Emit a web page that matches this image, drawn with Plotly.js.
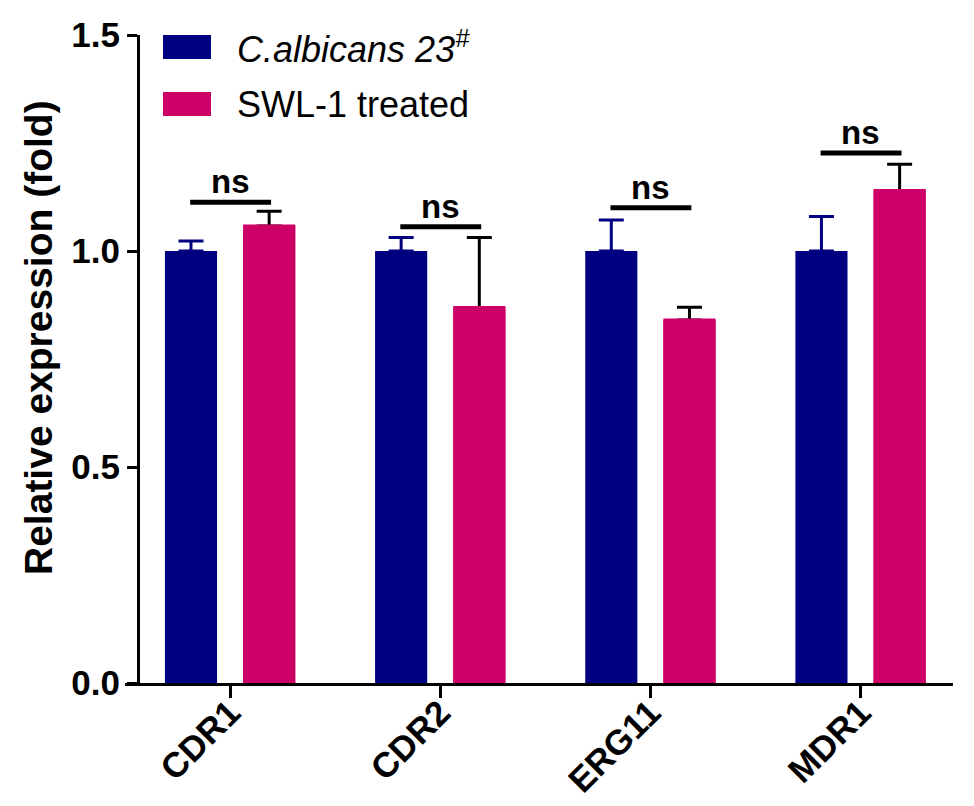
<!DOCTYPE html>
<html>
<head>
<meta charset="utf-8">
<script src="https://cdn.plot.ly/plotly-3.0.1.min.js"></script>
<style>html,body{margin:0;padding:0;background:#fff;}#chart{width:974px;height:806px;}</style>
</head>
<body>
<div id="chart"></div>
<script>
// ---- data ----
const genes = ["CDR1", "CDR2", "ERG11", "MDR1"];
const seriesNames = ["<i>C.albicans 23</i><sup><i>#</i></sup>", "SWL-1 treated"];
const controlVals = [1.00, 1.00, 1.00, 1.00];
const controlErr  = [0.023, 0.031, 0.072, 0.080];
const treatedVals = [1.058, 0.869, 0.840, 1.140];
const treatedErr  = [0.034, 0.162, 0.030, 0.061];
const nsLabels = ["ns", "ns", "ns", "ns"];
const nsY = [1.113, 1.056, 1.100, 1.227];
const yTickVals = [0, 0.5, 1.0, 1.5];
const yTickText = ["0.0", "0.5", "1.0", "1.5"];
const yTitle = "Relative expression (fold)";

// ---- style ----
const NAVY = "#000080";
const PINK = "#CC0066";
const FONT = "Liberation Sans, Arial, sans-serif";
const zeros = genes.map(() => 0);
const BW = 0.248;

const traces = [
  {
    type: "bar", x: genes, y: controlVals, name: seriesNames[0],
    width: BW, offset: -0.31,
    marker: {color: NAVY},
    error_y: {type: "data", symmetric: false, array: controlErr, arrayminus: zeros,
              color: NAVY, thickness: 3, width: 12.5},
    showlegend: false
  },
  {
    type: "bar", x: genes, y: treatedVals, name: seriesNames[1],
    width: BW, offset: 0.062,
    marker: {color: PINK},
    error_y: {type: "data", symmetric: false, array: treatedErr, arrayminus: zeros,
              color: "#000000", thickness: 3, width: 12.5},
    showlegend: false, hoverinfo: "skip"
  },
  {
    type: "bar", x: genes, y: treatedVals, name: seriesNames[1],
    width: BW - 0.014, offset: 0.069,
    marker: {color: PINK, line: {color: PINK, width: 3}},
    showlegend: false
  }
];

const L = 125, R = 953, T = 35, B = 683;
const px2x = p => (p - L) / (R - L);
const px2y = p => (B - p) / (B - T);

const shapes = [];
const annotations = [];
genes.forEach((g, i) => {
  shapes.push({type: "line", xref: "x", yref: "y", x0: i - 0.19, x1: i + 0.195,
               y0: nsY[i], y1: nsY[i], line: {color: "#000", width: 5}});
  annotations.push({xref: "x", yref: "y", x: i, y: nsY[i], text: nsLabels[i],
                    showarrow: false, yanchor: "bottom", yshift: 0,
                    font: {family: FONT, size: 33, color: "#000", weight: "bold"}});
});

// custom legend
const legendColors = [NAVY, PINK];
const legendTop = [35, 92];
legendColors.forEach((c, k) => {
  shapes.push({type: "rect", xref: "paper", yref: "paper",
               x0: px2x(163), x1: px2x(211), y0: px2y(legendTop[k] + 24), y1: px2y(legendTop[k]),
               fillcolor: c, line: {width: 0}});
  annotations.push({xref: "paper", yref: "paper", x: px2x(235), y: px2y(legendTop[k] + 12),
                    xanchor: "left", yanchor: "middle", showarrow: false, text: seriesNames[k],
                    font: {family: FONT, size: 36, color: "#000"}});
});

// y-axis title
annotations.push({xref: "paper", yref: "paper", x: px2x(38), y: px2y(338),
                  xanchor: "center", yanchor: "middle", textangle: -90, showarrow: false,
                  text: yTitle, font: {family: FONT, size: 39, color: "#000", weight: "bold"}});

const layout = {
  width: 974, height: 806,
  margin: {l: L, r: 974 - R, t: T, b: 806 - B, pad: 0},
  paper_bgcolor: "#fff", plot_bgcolor: "#fff",
  barmode: "overlay",
  showlegend: false,
  font: {family: FONT, color: "#000"},
  xaxis: {
    type: "category", range: [-0.5, 3.44],
    showline: true, linecolor: "#000", linewidth: 3,
    ticks: "outside", ticklen: 12, tickwidth: 3, tickcolor: "#000",
    tickangle: -45, showgrid: false, zeroline: false,
    ticklabelstandoff: -20, ticklabelshift: 0,
    tickfont: {family: FONT, size: 35, color: "#000", weight: "bold"}
  },
  yaxis: {
    range: [0, 1.5], anchor: "free", position: px2x(138),
    showline: true, linecolor: "#000", linewidth: 3,
    ticks: "outside", ticklen: 10, tickwidth: 3, tickcolor: "#000",
    tickvals: yTickVals, ticktext: yTickText,
    showgrid: false, zeroline: false,
    tickfont: {family: FONT, size: 35, color: "#000", weight: "bold"}
  },
  shapes: shapes,
  annotations: annotations
};

Plotly.newPlot("chart", traces, layout, {displayModeBar: false, staticPlot: true});
</script>
</body>
</html>
